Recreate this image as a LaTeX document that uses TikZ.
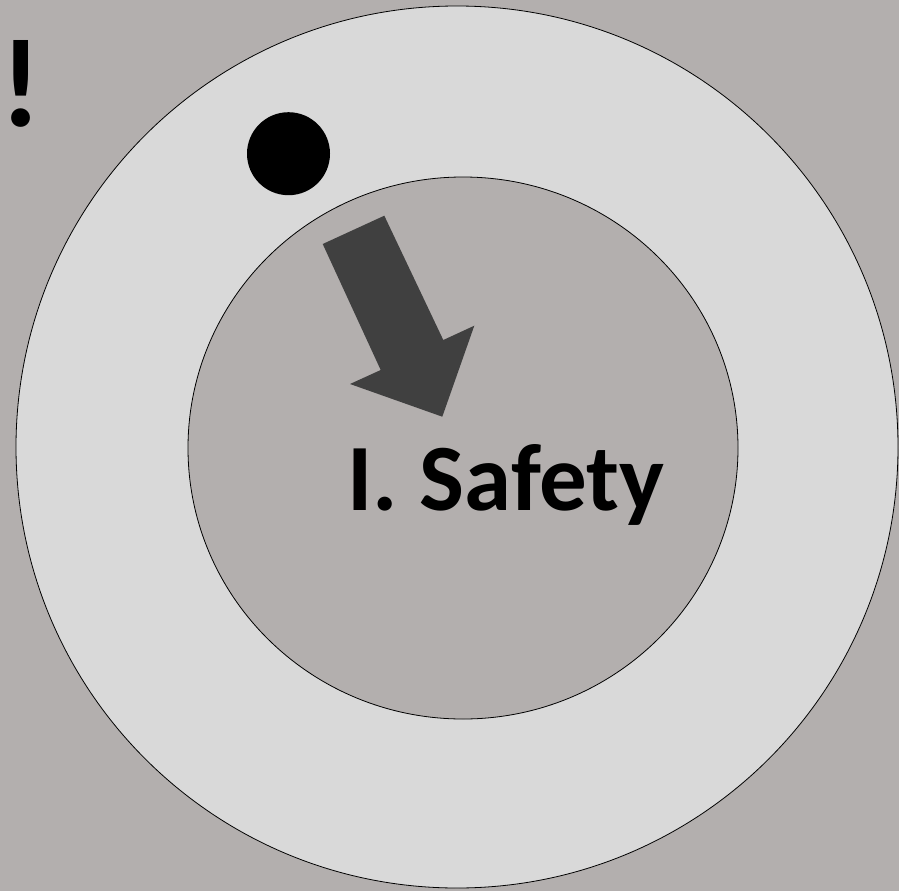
\documentclass[tikz,border=0pt]{standalone}
\usepackage{fontspec}
\setmainfont{Carlito}
\usetikzlibrary{positioning}
\definecolor{bgcolor}{RGB}{179, 175, 174}
\definecolor{ringcolor}{RGB}{217, 217, 217}
\definecolor{arrowcolor}{RGB}{64, 64, 64}
\tikzset{
bigtext/.style={
  font=\bfseries\fontsize{95}{100}\selectfont,
  text=black,
  inner sep=0pt
},
marktext/.style={
  font=\bfseries\fontsize{126}{130}\selectfont,
  text=black,
  inner sep=0pt
},
ring/.style={
  draw=black,
  line width=0.8pt
}
}
\begin{document}
\begin{tikzpicture}[x=1pt,y=-1pt]
  % background and bounds
  \fill[bgcolor] (0,0) rectangle (899,891);
  \useasboundingbox (0,0) rectangle (899,891);
  % rings
  \draw[ring, fill=ringcolor] (457,447) circle (441);
  \draw[ring, fill=bgcolor] (463,448) ellipse (275 and 271);
  % dot
  \fill[black] (288.5,153.7) circle (41.5);
  % arrow
  \fill[arrowcolor] (322.7,244) -- (384.3,215.7) -- (443.3,340) -- (474.3,325.7)
    -- (442.3,416.7) -- (350,384) -- (380.7,370) -- cycle;
  % labels
  \node[bigtext, anchor=base] (safety) at (506,510) {I. Safety};
  \node[marktext, anchor=base] (mark) at (21,126) {!};
\end{tikzpicture}
\end{document}
